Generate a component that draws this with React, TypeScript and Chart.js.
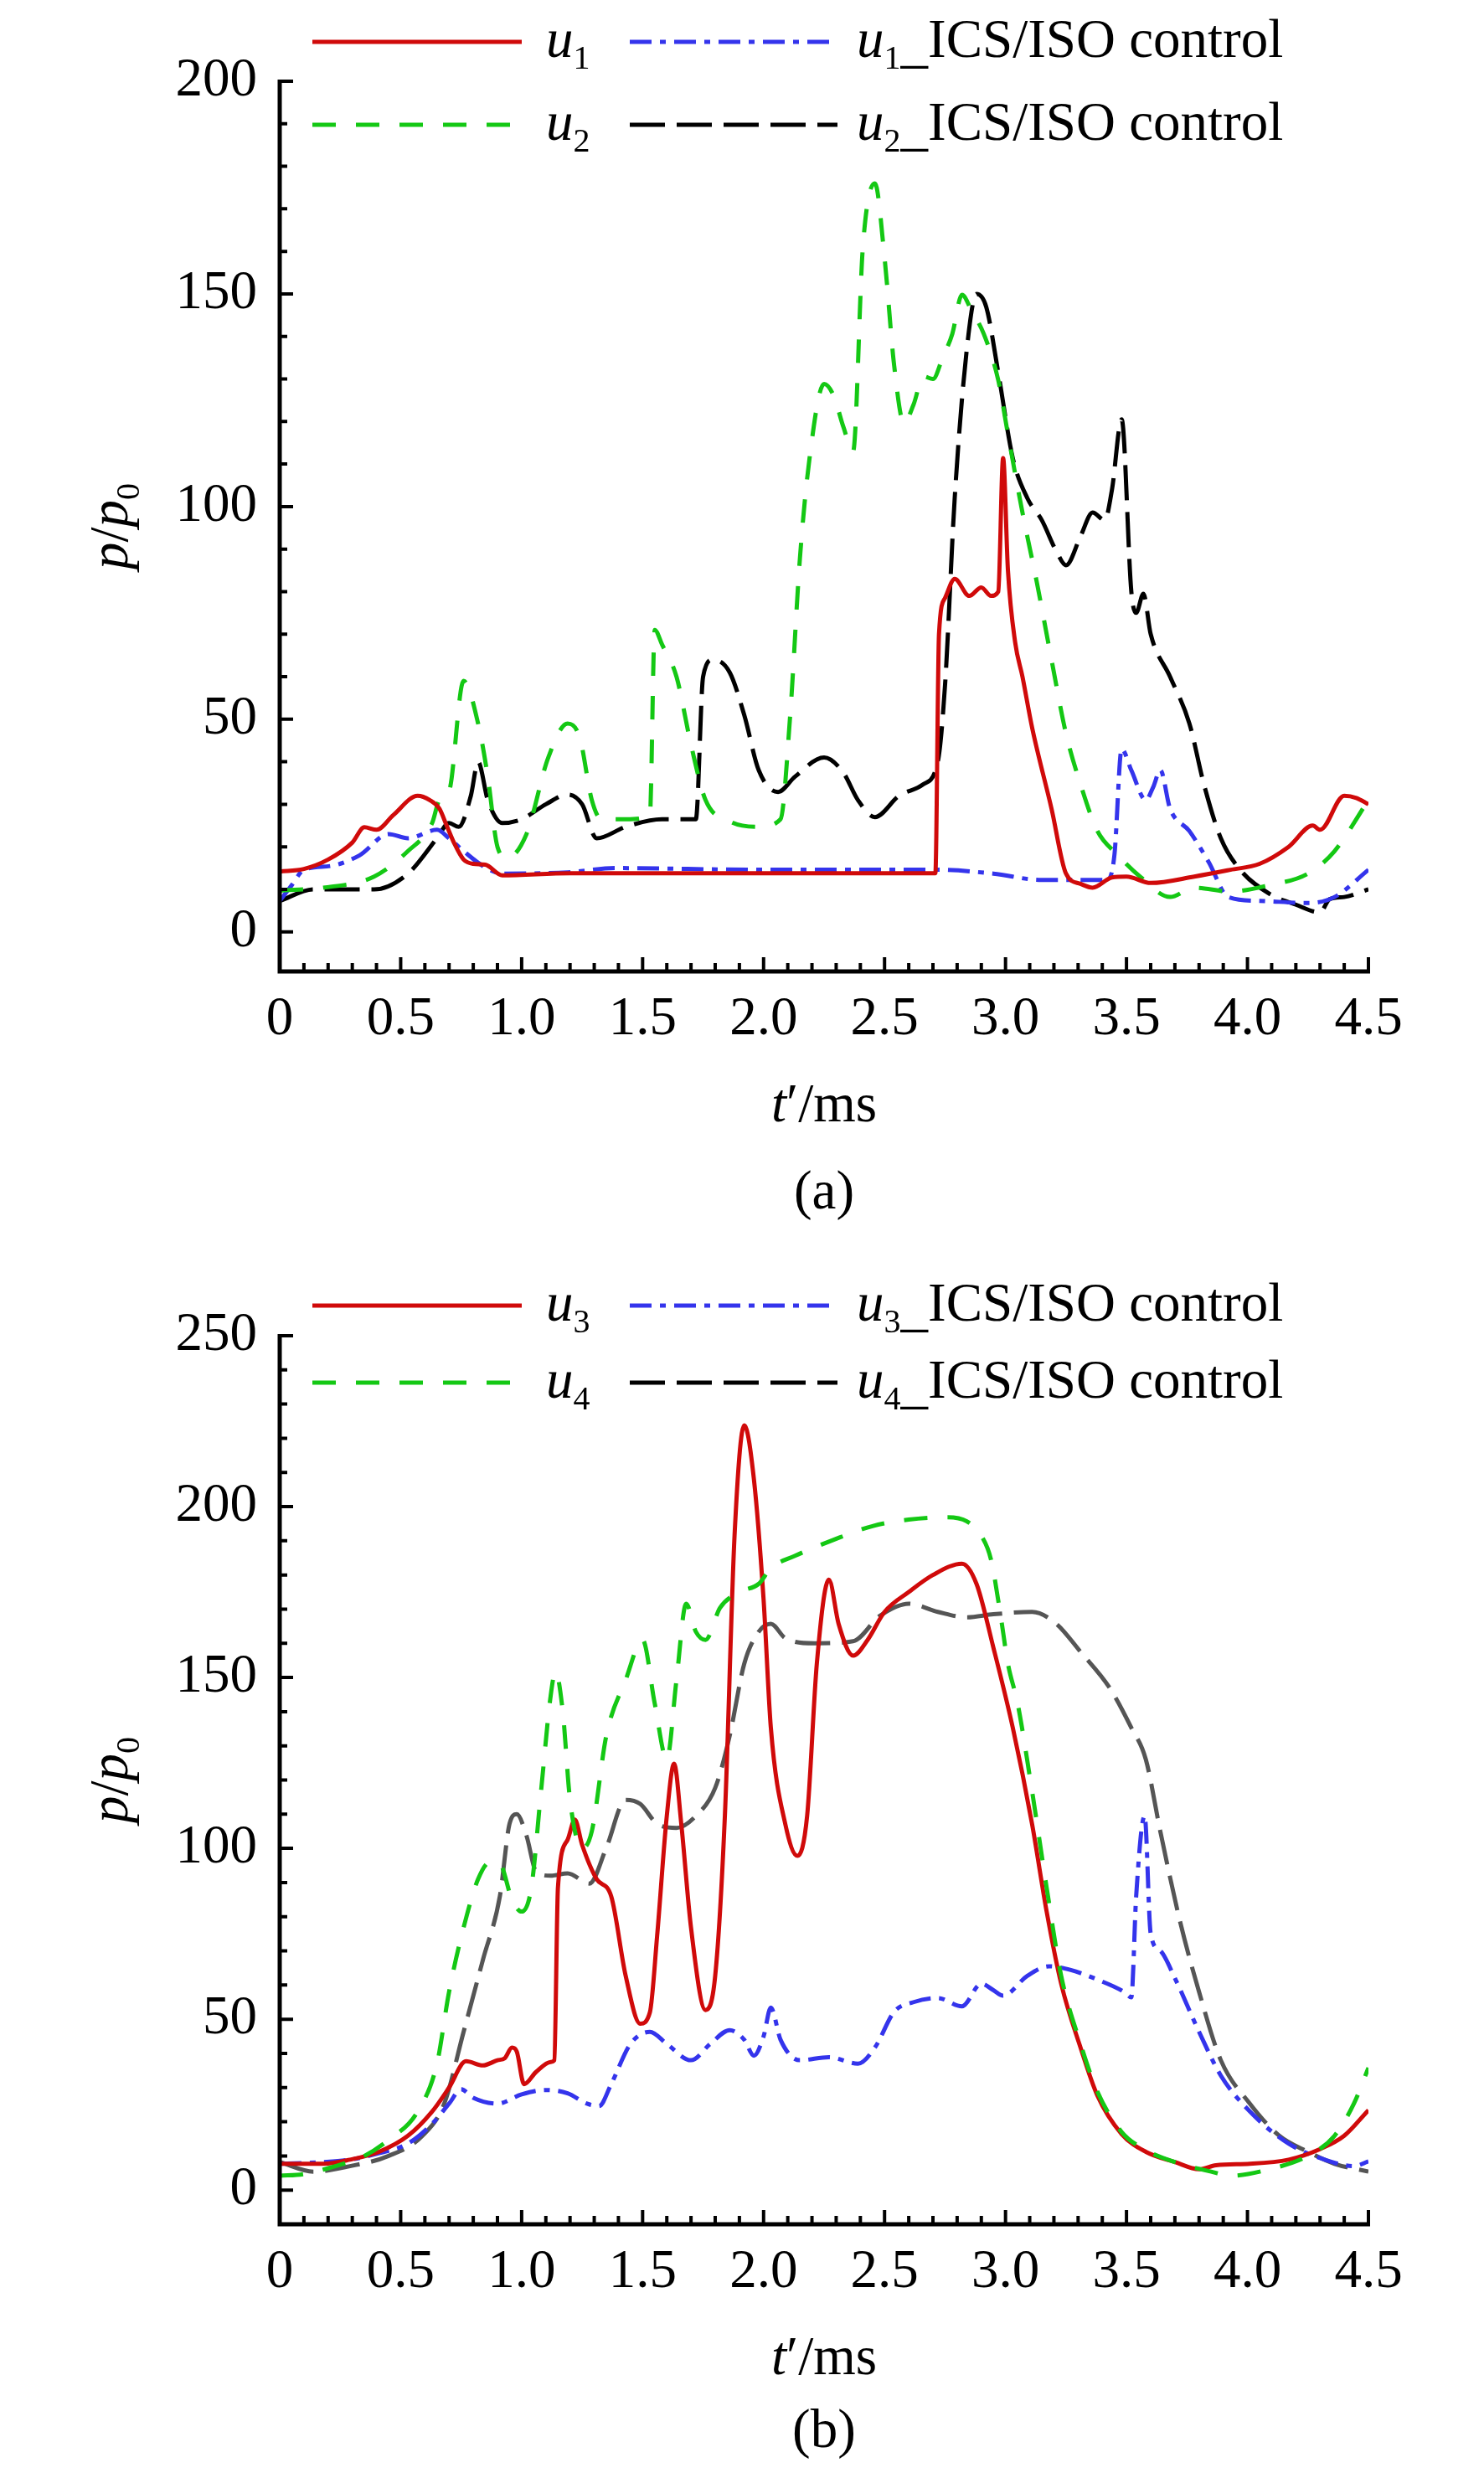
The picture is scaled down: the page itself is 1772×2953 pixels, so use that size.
import React, { useEffect, useRef } from 'react';
import { Chart, registerables } from 'chart.js';
Chart.register(...registerables);

const FONT = '"Liberation Serif", "Times New Roman", serif';

// ---------- axes / ticks ----------
const X_TICKS = [0, 0.5, 1, 1.5, 2, 2.5, 3, 3.5, 4, 4.5];
const X_TICK_LABELS = ['0', '0.5', '1.0', '1.5', '2.0', '2.5', '3.0', '3.5', '4.0', '4.5'];
const Y_TICKS_A = [0, 50, 100, 150, 200];
const Y_TICKS_B = [0, 50, 100, 150, 200, 250];

// ---------- panel (a) data ----------
const u1_t = [0, 0.1, 0.2, 0.3, 0.35, 0.4, 0.47, 0.57, 0.62, 0.66, 0.69, 0.72, 0.76, 0.8, 0.85, 0.92, 1.2, 2.0, 2.71, 2.725, 2.75, 2.79, 2.85, 2.9, 2.94, 2.97, 2.99, 3.01, 3.04, 3.07, 3.11, 3.19, 3.25, 3.31, 3.36, 3.44, 3.5, 3.6, 3.78, 3.93, 4.05, 4.17, 4.27, 4.3, 4.4, 4.45, 4.5];
const u1_p = [14.2, 14.8, 17, 21, 24.6, 24, 27.5, 32, 31, 29, 25, 21, 17, 16, 15.8, 13.3, 13.8, 13.8, 13.8, 70, 78.5, 83, 79, 81, 79, 80, 111.4, 85, 68, 60, 48, 29, 13.7, 11.3, 10.4, 12.8, 13, 11.5, 13, 14.6, 16, 20, 25, 24, 32, 31.5, 30];

const u2_t = [0, 0.18, 0.39, 0.53, 0.63, 0.66, 0.7, 0.76, 0.82, 0.86, 0.9, 0.94, 1.02, 1.11, 1.19, 1.24, 1.29, 1.33, 1.43, 1.53, 1.55, 1.58, 1.64, 1.7, 1.76, 1.86, 1.98, 2.07, 2.11, 2.15, 2.19, 2.25, 2.29, 2.33, 2.37, 2.41, 2.46, 2.5, 2.54, 2.58, 2.62, 2.66, 2.7, 2.74, 2.78, 2.82, 2.86, 2.91, 2.97, 3.01, 3.07, 3.13, 3.19, 3.25, 3.31, 3.38, 3.46, 3.56, 3.68, 3.78, 3.93, 4.09, 4.25, 4.36, 4.5];
const u2_p = [9.7, 10.4, 13, 19, 25.6, 31, 33, 59, 49, 36.5, 20, 17.4, 23, 41, 49, 45.7, 31, 26.5, 26.5, 27.4, 71, 67.6, 60, 44, 31, 26, 24.7, 26.5, 51, 87.7, 111.4, 128.8, 126, 118.7, 113, 160.7, 176, 158.5, 133, 119.6, 124, 130.6, 130, 135, 140.6, 149.8, 146, 140.6, 129.7, 117, 98.6, 82, 64, 46.6, 34.7, 23.7, 18.3, 12.8, 8.2, 10.4, 9.5, 11, 13.7, 19, 31];

const u1c_t = [0, 0.05, 0.1, 0.21, 0.33, 0.45, 0.53, 0.65, 0.7, 0.76, 0.84, 0.92, 1.19, 1.39, 1.98, 2.72, 2.95, 3.15, 3.42, 3.45, 3.48, 3.52, 3.58, 3.61, 3.64, 3.68, 3.76, 3.84, 3.92, 4.05, 4.25, 4.36, 4.5];
const u1c_p = [7.3, 11, 14.6, 15.5, 18, 23, 22, 24, 22, 19, 15.5, 13.7, 14, 15, 14.6, 14.6, 13.7, 12.2, 12.2, 18, 43, 38, 31, 34, 38, 29, 23.7, 16.4, 8.2, 7.3, 6.8, 8.2, 14.6];

const u2c_t = [0, 0.14, 0.39, 0.53, 0.65, 0.7, 0.74, 0.79, 0.82, 0.86, 0.92, 1.0, 1.1, 1.19, 1.25, 1.31, 1.43, 1.58, 1.72, 1.75, 1.79, 1.86, 1.92, 1.98, 2.06, 2.13, 2.25, 2.33, 2.39, 2.46, 2.56, 2.66, 2.72, 2.75, 2.79, 2.84, 2.88, 2.92, 2.97, 3.03, 3.09, 3.15, 3.21, 3.25, 3.31, 3.36, 3.41, 3.44, 3.48, 3.52, 3.54, 3.57, 3.6, 3.68, 3.76, 3.82, 3.89, 3.97, 4.09, 4.2, 4.3, 4.34, 4.4, 4.5];
const u2c_p = [7.3, 10, 10, 13.7, 22, 25.6, 24.7, 32, 40, 31, 25.6, 26.5, 30, 32.3, 30, 22, 24.7, 26.5, 26.5, 60, 64, 61, 51, 38, 32.9, 36.5, 41, 37.4, 31, 27, 32, 34.7, 40, 58, 102, 137, 150, 147, 131.5, 111.4, 102, 96.8, 89.5, 86.2, 93, 98.6, 96.8, 104, 120.5, 80, 75, 79.5, 70, 60, 49, 34.7, 22, 14.6, 9, 6.4, 4.6, 7.7, 8.2, 10];

// ---------- panel (b) data ----------
const u3_t = [0, 0.18, 0.29, 0.41, 0.53, 0.63, 0.7, 0.77, 0.84, 0.9, 0.93, 0.96, 0.98, 1.01, 1.06, 1.12, 1.135, 1.15, 1.19, 1.22, 1.25, 1.31, 1.37, 1.43, 1.49, 1.53, 1.56, 1.6, 1.63, 1.66, 1.7, 1.76, 1.8, 1.84, 1.88, 1.92, 1.96, 2.0, 2.03, 2.09, 2.14, 2.18, 2.22, 2.27, 2.31, 2.37, 2.43, 2.5, 2.6, 2.7, 2.82, 2.88, 2.95, 3.03, 3.11, 3.17, 3.23, 3.31, 3.38, 3.48, 3.58, 3.7, 3.8, 3.87, 4.01, 4.17, 4.3, 4.4, 4.5];
const u3_p = [7.7, 7.7, 8.9, 11.2, 15.9, 23, 30, 37.7, 36.5, 38, 38.6, 41.7, 40.5, 31, 34.6, 37.5, 38, 88.5, 102.5, 108.4, 101, 91, 86, 62.7, 48.7, 52, 74.4, 109.5, 124.8, 107, 76.8, 52.7, 62.7, 109.5, 191.5, 223.8, 208, 172.8, 135.3, 107, 97.8, 109.5, 154, 178.6, 165.7, 156.4, 161, 169.2, 175, 180, 183.3, 177.4, 158.7, 135.3, 107, 81.5, 60.4, 41.7, 27.6, 16.4, 11.2, 8.2, 6.1, 7.3, 7.7, 8.9, 12, 15.9, 23.4];

const u4_t = [0, 0.1, 0.21, 0.35, 0.45, 0.57, 0.65, 0.7, 0.76, 0.82, 0.87, 0.91, 0.96, 1.0, 1.04, 1.08, 1.12, 1.14, 1.17, 1.2, 1.25, 1.29, 1.35, 1.43, 1.5, 1.55, 1.6, 1.64, 1.68, 1.72, 1.76, 1.82, 1.9, 1.98, 2.03, 2.13, 2.29, 2.45, 2.6, 2.76, 2.84, 2.9, 2.94, 2.98, 3.01, 3.05, 3.11, 3.17, 3.23, 3.31, 3.38, 3.48, 3.58, 3.7, 3.85, 3.93, 4.09, 4.25, 4.36, 4.44, 4.5];
const u4_p = [4.2, 4.7, 6.6, 10, 14.7, 23, 37, 58, 76.8, 91, 96, 95.5, 85, 81.5, 88.5, 116.6, 144.7, 151.7, 140, 114.2, 100, 105, 133, 149.3, 161, 142.4, 126, 149.3, 171.6, 163.4, 161, 170.4, 175, 177.4, 182, 185.6, 190.3, 194.3, 196.2, 196.9, 195.7, 191.5, 184.5, 168, 154, 142.4, 116.6, 88.5, 62.7, 42.8, 28.8, 17, 11.7, 8.2, 5.4, 4.2, 6.1, 10, 15.9, 25.3, 35.8];

const u3c_t = [0, 0.18, 0.29, 0.41, 0.53, 0.63, 0.7, 0.75, 0.8, 0.9, 1.0, 1.1, 1.19, 1.27, 1.32, 1.37, 1.45, 1.53, 1.6, 1.7, 1.78, 1.86, 1.92, 1.96, 2.0, 2.03, 2.07, 2.15, 2.27, 2.39, 2.46, 2.54, 2.62, 2.72, 2.82, 2.9, 2.95, 2.99, 3.09, 3.18, 3.27, 3.38, 3.49, 3.52, 3.54, 3.575, 3.6, 3.64, 3.7, 3.8, 3.89, 4.01, 4.17, 4.32, 4.44, 4.5];
const u3c_p = [7.7, 8.2, 8.9, 10.8, 13.6, 19.4, 25.3, 29.5, 27, 25.3, 28, 29.3, 28.3, 25.3, 24.6, 31, 42.8, 46.3, 42.8, 38, 42.8, 46.8, 44, 39.3, 45, 53.4, 44, 38, 38.9, 37, 41.7, 52.2, 55, 56.2, 53.8, 60.4, 58.5, 56.9, 62.7, 65.5, 64.4, 61.6, 58, 56.4, 86, 109.5, 75, 70, 62, 46.3, 33.5, 23, 13.6, 8.9, 7, 8.4];

const u4c_t = [0, 0.14, 0.29, 0.45, 0.59, 0.68, 0.76, 0.84, 0.91, 0.95, 0.98, 1.02, 1.06, 1.12, 1.19, 1.28, 1.35, 1.43, 1.49, 1.56, 1.64, 1.72, 1.8, 1.86, 1.92, 1.98, 2.03, 2.09, 2.21, 2.37, 2.48, 2.6, 2.72, 2.84, 2.95, 3.11, 3.21, 3.31, 3.43, 3.52, 3.58, 3.64, 3.72, 3.8, 3.89, 4.01, 4.13, 4.25, 4.36, 4.5];
const u4c_p = [8.2, 5.4, 7, 10, 15.9, 25.3, 46.3, 67.4, 86, 107.2, 110, 103.7, 93.2, 92, 92.7, 89.7, 100.2, 114.2, 113, 107.2, 106, 109.5, 117.7, 133, 154, 163.4, 165.7, 161.5, 160, 160.6, 168, 171.6, 169.2, 167.6, 168.5, 169.2, 165.7, 157.5, 147, 135.3, 126, 104.9, 79, 58, 38, 25.3, 16, 11.2, 7.7, 5.4];

// ---------- styles / layout ----------
const RED = '#D00A0A';
const GREEN = '#14C814';
const BLUE = '#3434EC';
const BLACK = '#000000';
const GRAY = '#555555';

const PAGE_W = 1772;
const AREA_LEFT = 334;
const AREA_RIGHT = 1634;
const MAIN_SIZE = 65;
const SUB_SIZE = 40;
const SUB_DY = 14;

type Seg = { t: string; it?: boolean; sub?: boolean; dy?: number };

function fontFor(s: Seg) {
  return `${s.it ? 'italic ' : ''}${s.sub ? SUB_SIZE : MAIN_SIZE}px ${FONT}`;
}
function measure(ctx: CanvasRenderingContext2D, segs: Seg[]) {
  let w = 0;
  for (const s of segs) {
    ctx.font = fontFor(s);
    w += ctx.measureText(s.t).width;
  }
  return w;
}
function drawSegs(ctx: CanvasRenderingContext2D, segs: Seg[], x: number, y: number) {
  for (const s of segs) {
    ctx.font = fontFor(s);
    ctx.fillText(s.t, x, y + (s.sub ? SUB_DY : 0) + (s.dy || 0));
    x += ctx.measureText(s.t).width;
  }
}
function lbl(n: string, ics: boolean): Seg[] {
  const segs: Seg[] = [{ t: 'u', it: true }, { t: n, sub: true }];
  if (ics) segs.push({ t: '_', dy: 6 }, { t: 'ICS/ISO control' });
  return segs;
}

function pts(t: number[], p: number[]) {
  return t.map((x, i) => ({ x, y: p[i] }));
}

type SeriesDef = {
  segs: Seg[];
  t: number[];
  p: number[];
  color: string;
  legendColor?: string;
  dash: number[];
  order: number;
  col: number;
  row: number;
};

type PanelCfg = {
  top: number;
  height: number;
  areaTop: number;
  areaBottom: number;
  yMin: number;
  yMax: number;
  yTicks: number[];
  legendRows: number[];
  caption: string;
  captionDy: number;
  series: SeriesDef[];
};

const DASH_GREEN = [28, 24];
const DASH_BLACK = [42, 14];
const DASH_BLUE = [26, 10, 7, 10];

const PANEL_A: PanelCfg = {
  top: 0,
  height: 1476,
  areaTop: 97,
  areaBottom: 1160,
  yMin: -9.3,
  yMax: 200,
  yTicks: Y_TICKS_A,
  legendRows: [50, 149],
  caption: '(a)',
  captionDy: 283,
  series: [
    { segs: lbl('1', false), t: u1_t, p: u1_p, color: RED, dash: [], order: 0, col: 0, row: 0 },
    { segs: lbl('1', true), t: u1c_t, p: u1c_p, color: BLUE, dash: DASH_BLUE, order: 2, col: 1, row: 0 },
    { segs: lbl('2', false), t: u2_t, p: u2_p, color: GREEN, dash: DASH_GREEN, order: 1, col: 0, row: 1 },
    { segs: lbl('2', true), t: u2c_t, p: u2c_p, color: BLACK, dash: DASH_BLACK, order: 3, col: 1, row: 1 },
  ],
};

const PANEL_B: PanelCfg = {
  top: 1476,
  height: 1477,
  areaTop: 119,
  areaBottom: 1180,
  yMin: -10,
  yMax: 250,
  yTicks: Y_TICKS_B,
  legendRows: [83, 175],
  caption: '(b)',
  captionDy: 266,
  series: [
    { segs: lbl('3', false), t: u3_t, p: u3_p, color: RED, dash: [], order: 1, col: 0, row: 0 },
    { segs: lbl('3', true), t: u3c_t, p: u3c_p, color: BLUE, dash: DASH_BLUE, order: 2, col: 1, row: 0 },
    { segs: lbl('4', false), t: u4_t, p: u4_p, color: GREEN, dash: DASH_GREEN, order: 0, col: 0, row: 1 },
    { segs: lbl('4', true), t: u4c_t, p: u4c_p, color: GRAY, legendColor: BLACK, dash: DASH_BLACK, order: 3, col: 1, row: 1 },
  ],
};

const LEGEND_COLS = [
  { x1: 373, x2: 623, tx: 652 },
  { x1: 752, x2: 1000, tx: 1023 },
];

function makeDecor(cfg: PanelCfg) {
  return {
    id: 'decor',
    afterDraw(chart: any) {
      const ctx: CanvasRenderingContext2D = chart.ctx;
      const ca = chart.chartArea;
      const xs = chart.scales.x;
      const ys = chart.scales.y;
      ctx.save();
      ctx.strokeStyle = '#000';
      ctx.fillStyle = '#000';
      ctx.setLineDash([]);
      ctx.lineCap = 'butt';
      // ticks
      ctx.lineWidth = 4;
      ctx.beginPath();
      for (let i = 0; i <= 45; i++) {
        const px = xs.getPixelForValue(i / 10);
        const len = i % 5 === 0 ? 17 : 10;
        ctx.moveTo(px, ca.bottom);
        ctx.lineTo(px, ca.bottom - len);
      }
      const nY = Math.round(cfg.yMax / 10);
      for (let i = 0; i <= nY; i++) {
        const py = ys.getPixelForValue(i * 10);
        const len = i % 5 === 0 ? 16 : 9;
        ctx.moveTo(ca.left, py);
        ctx.lineTo(ca.left + len, py);
      }
      ctx.stroke();
      // axis lines
      ctx.lineWidth = 5;
      ctx.beginPath();
      ctx.moveTo(ca.left, ys.getPixelForValue(cfg.yMax) - 2);
      ctx.lineTo(ca.left, ca.bottom + 2.5);
      ctx.moveTo(ca.left - 2.5, ca.bottom);
      ctx.lineTo(ca.right + 2, ca.bottom);
      ctx.stroke();

      // legend
      ctx.textBaseline = 'alphabetic';
      ctx.textAlign = 'left';
      for (const s of cfg.series) {
        const col = LEGEND_COLS[s.col];
        const y = cfg.legendRows[s.row];
        ctx.strokeStyle = s.legendColor || s.color;
        ctx.lineWidth = 5;
        ctx.setLineDash(s.dash);
        ctx.beginPath();
        ctx.moveTo(col.x1, y);
        ctx.lineTo(col.x2, y);
        ctx.stroke();
        ctx.setLineDash([]);
        ctx.fillStyle = '#000';
        drawSegs(ctx, s.segs, col.tx, y + 18);
      }

      // y title
      const ySegs: Seg[] = [{ t: 'p', it: true }, { t: '/' }, { t: 'p', it: true }, { t: '0', sub: true }];
      const yw = measure(ctx, ySegs);
      ctx.save();
      ctx.translate(152, (ca.top + ca.bottom) / 2);
      ctx.rotate(-Math.PI / 2);
      drawSegs(ctx, ySegs, -yw / 2, 0);
      ctx.restore();

      // x title
      const xSegs: Seg[] = [{ t: 't', it: true }, { t: '\u2032' }, { t: '/ms' }];
      const xw = measure(ctx, xSegs);
      const cx = (ca.left + ca.right) / 2;
      drawSegs(ctx, xSegs, cx - xw / 2, ca.bottom + 179);

      // caption
      const cSegs: Seg[] = [{ t: cfg.caption }];
      const cw = measure(ctx, cSegs);
      drawSegs(ctx, cSegs, cx - cw / 2, ca.bottom + cfg.captionDy);
      ctx.restore();
    },
  };
}

function Panel({ cfg }: { cfg: PanelCfg }) {
  const ref = useRef<HTMLCanvasElement | null>(null);
  useEffect(() => {
    if (!ref.current) return;
    const datasets = cfg.series.map((s) => ({
      label: s.segs.map((g) => g.t).join(''),
      data: pts(s.t, s.p),
      borderColor: s.color,
      backgroundColor: s.color,
      borderWidth: 5,
      borderDash: s.dash,
      pointRadius: 0,
      fill: false,
      cubicInterpolationMode: 'monotone' as const,
      order: s.order,
    }));
    const chart = new Chart(ref.current, {
      type: 'line',
      data: { datasets },
      options: {
        responsive: false,
        animation: false,
        devicePixelRatio: 1,
        events: [],
        layout: { padding: { top: cfg.areaTop, right: PAGE_W - AREA_RIGHT, left: 0, bottom: 0 } },
        plugins: { legend: { display: false }, tooltip: { enabled: false } },
        scales: {
          x: {
            type: 'linear',
            min: 0,
            max: 4.5,
            afterBuildTicks: (s: any) => {
              s.ticks = X_TICKS.map((v) => ({ value: v }));
            },
            afterFit: (s: any) => {
              s.height = cfg.height - cfg.areaBottom;
            },
            grid: { display: false, drawTicks: false },
            border: { display: false },
            ticks: {
              autoSkip: false,
              maxRotation: 0,
              minRotation: 0,
              padding: 25,
              color: '#000',
              font: { family: FONT, size: MAIN_SIZE, lineHeight: 1 },
              callback: (_v: any, i: number) => X_TICK_LABELS[i],
            },
          },
          y: {
            type: 'linear',
            min: cfg.yMin,
            max: cfg.yMax,
            afterBuildTicks: (s: any) => {
              s.ticks = cfg.yTicks.map((v) => ({ value: v }));
            },
            afterFit: (s: any) => {
              s.width = AREA_LEFT;
            },
            grid: { display: false, drawTicks: false },
            border: { display: false },
            ticks: {
              autoSkip: false,
              padding: 27,
              color: '#000',
              font: { family: FONT, size: MAIN_SIZE, lineHeight: 1 },
              callback: (v: any) => String(v),
            },
          },
        },
      } as any,
      plugins: [makeDecor(cfg)],
    });
    return () => chart.destroy();
  }, [cfg]);
  return (
    <canvas
      ref={ref}
      width={PAGE_W}
      height={cfg.height}
      style={{ position: 'absolute', left: 0, top: cfg.top, width: PAGE_W, height: cfg.height, display: 'block' }}
    />
  );
}

export default function App() {
  useEffect(() => {
    document.body.style.margin = '0';
    document.body.style.overflow = 'hidden';
    document.body.style.background = '#fff';
  }, []);
  return (
    <div style={{ position: 'absolute', left: 0, top: 0, width: PAGE_W, height: 2953, background: '#fff', overflow: 'hidden' }}>
      <Panel cfg={PANEL_A} />
      <Panel cfg={PANEL_B} />
    </div>
  );
}
